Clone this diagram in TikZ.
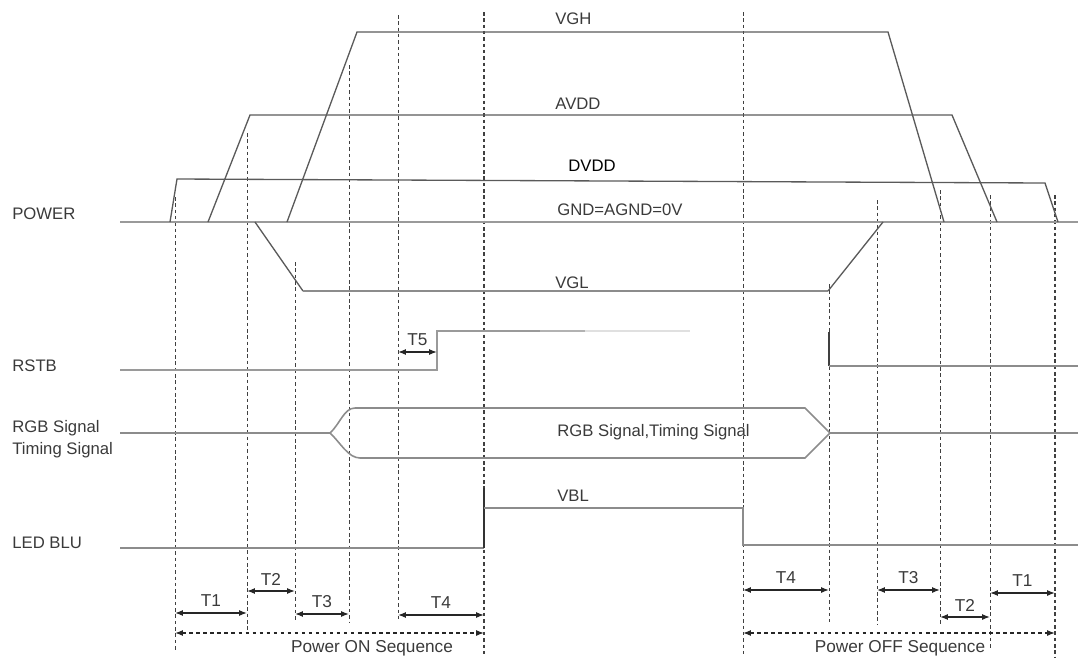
\documentclass[tikz,border=0pt]{standalone}
\usepackage{fontspec}
\setmainfont{Liberation Sans}
\usetikzlibrary{arrows.meta}
\definecolor{inkA}{HTML}{3A3A3A}
\definecolor{railC}{HTML}{5A5A5A}
\definecolor{gndC}{HTML}{9A9A9A}
\definecolor{sigC}{HTML}{8C8C8C}
\tikzset{
  lbl/.style={anchor=west, inner sep=0pt, text=inkA, font=\fontsize{9.5}{11}\selectfont},
  tlbl/.style={inner sep=0pt, text=inkA, font=\fontsize{9.8}{11}\selectfont},
  gndline/.style={gndC, line width=1.5pt},
  rail/.style={railC, line width=0.75pt},
  sig/.style={sigC, line width=0.9pt},
  guide/.style={black!75, line width=0.5pt, dash pattern=on 2pt off 1.6pt},
  tarrow/.style={black!85, line width=0.7pt,
    {Latex[length=4.5pt,width=3.4pt]}-{Latex[length=4.5pt,width=3.4pt]}},
}
% timing gap: from x #1 to x #2 at height #3, label #4, node name #5
\newcommand{\tgap}[5]{%
  \draw[tarrow] (#1,#3) -- (#2,#3);
  \node[tlbl] (#5) at ({(#1+#2)/2},#3-12) {#4};
}

\begin{document}
\begin{tikzpicture}[x=0.02cm,y=-0.02cm]
  \useasboundingbox (0,0) rectangle (1078,657);

  % guide lines
  \foreach \gx/\gtop/\gbot in {175/197/650, 247/133/630, 295/262/622, 349/65/622,
      398/15/622, 743/12/657, 829/284/622, 877/200/625, 940/190/625, 990/195/650}
    \draw[guide] (\gx,\gtop) -- (\gx,\gbot);
  \draw[guide, line width=0.9pt] (484,12) -- (484,657);
  \draw[guide, line width=0.9pt] (1055,195) -- (1055,657);

  % POWER
  \node[lbl] (power) at (12,214) {POWER};
  \draw[gndline] (120,222) -- (1078,222);
  \draw[rail] (170,222) -- (177,179) -- (1045,183) -- (1058,222);
  \draw[rail] (208,222) -- (250,115) -- (952,115) -- (997,222);
  \draw[rail] (287,222) -- (357,32) -- (888,32) -- (944,222);
  \draw[rail] (255,222) -- (303,291);
  \draw[sig] (303,291) -- (828,291);
  \draw[rail] (828,291) -- (883,222);
  \node[lbl] (vgh) at (555,19) {VGH};
  \node[lbl] (avdd) at (555,104) {AVDD};
  \node[lbl, text=black] (dvdd) at (568,166) {DVDD};
  \node[lbl] (gnd) at (557,210) {GND=AGND=0V};
  \node[lbl] (vgl) at (555,283) {VGL};

  % RSTB
  \node[lbl] (rstb) at (12,366) {RSTB};
  \draw[gndline] (120,370) -- (437,370) -- (437,331) -- (540,331);
  \draw[black!30, line width=1.5pt] (540,331) -- (585,331);
  \draw[black!12, line width=1.5pt] (585,331) -- (690,331);
  \draw[black!75, line width=1.3pt] (829,332) -- (829,366);
  \draw[sig, line width=1.2pt] (829,366) -- (1078,366);
  \tgap{398}{437}{352}{T5}{tfive}

  % RGB
  \node[lbl] (rgba) at (12,428) {RGB Signal};
  \node[lbl] (rgbb) at (12,450) {Timing Signal};
  \draw[sig] (120,433) -- (330,433);
  \draw[sig] (330,433) .. controls (340,424) and (344,408) .. (355,408)
    -- (805,408) -- (830,433);
  \draw[sig] (330,433) .. controls (340,442) and (348,458) .. (360,458)
    -- (805,458) -- (830,433);
  \draw[sig] (830,433) -- (1078,433);
  \node[lbl] (rgbsig) at (557,432) {RGB Signal,Timing Signal};

  % LED BLU
  \node[lbl] (ledblu) at (12,543) {LED BLU};
  \draw[sig] (120,548) -- (484,548);
  \draw[black!80, line width=1.2pt] (484,548) -- (484,488);
  \draw[sig] (484,508) -- (743,508) -- (743,545) -- (1078,545);
  \node[lbl] (vbl) at (557,496) {VBL};

  % power on
  \tgap{175}{247}{613}{T1}{tonea}
  \tgap{247}{295}{591}{T2}{ttwoa}
  \tgap{295}{349}{614}{T3}{tthreea}
  \tgap{398}{484}{615}{T4}{tfoura}
  \draw[tarrow, dash pattern=on 2pt off 2pt] (175,633) -- (484,633);
  \node[tlbl] (pon) at (372,648) {Power ON Sequence};

  % power off
  \tgap{743}{829}{590}{T4}{tfourb}
  \tgap{877}{940}{590}{T3}{tthreeb}
  \tgap{940}{990}{617}{T2}{ttwob}
  \tgap{990}{1055}{593}{T1}{toneb}
  \draw[tarrow, dash pattern=on 2pt off 2pt] (743,633) -- (1055,633);
  \node[tlbl] (poff) at (900,648) {Power OFF Sequence};

\end{tikzpicture}
\end{document}
